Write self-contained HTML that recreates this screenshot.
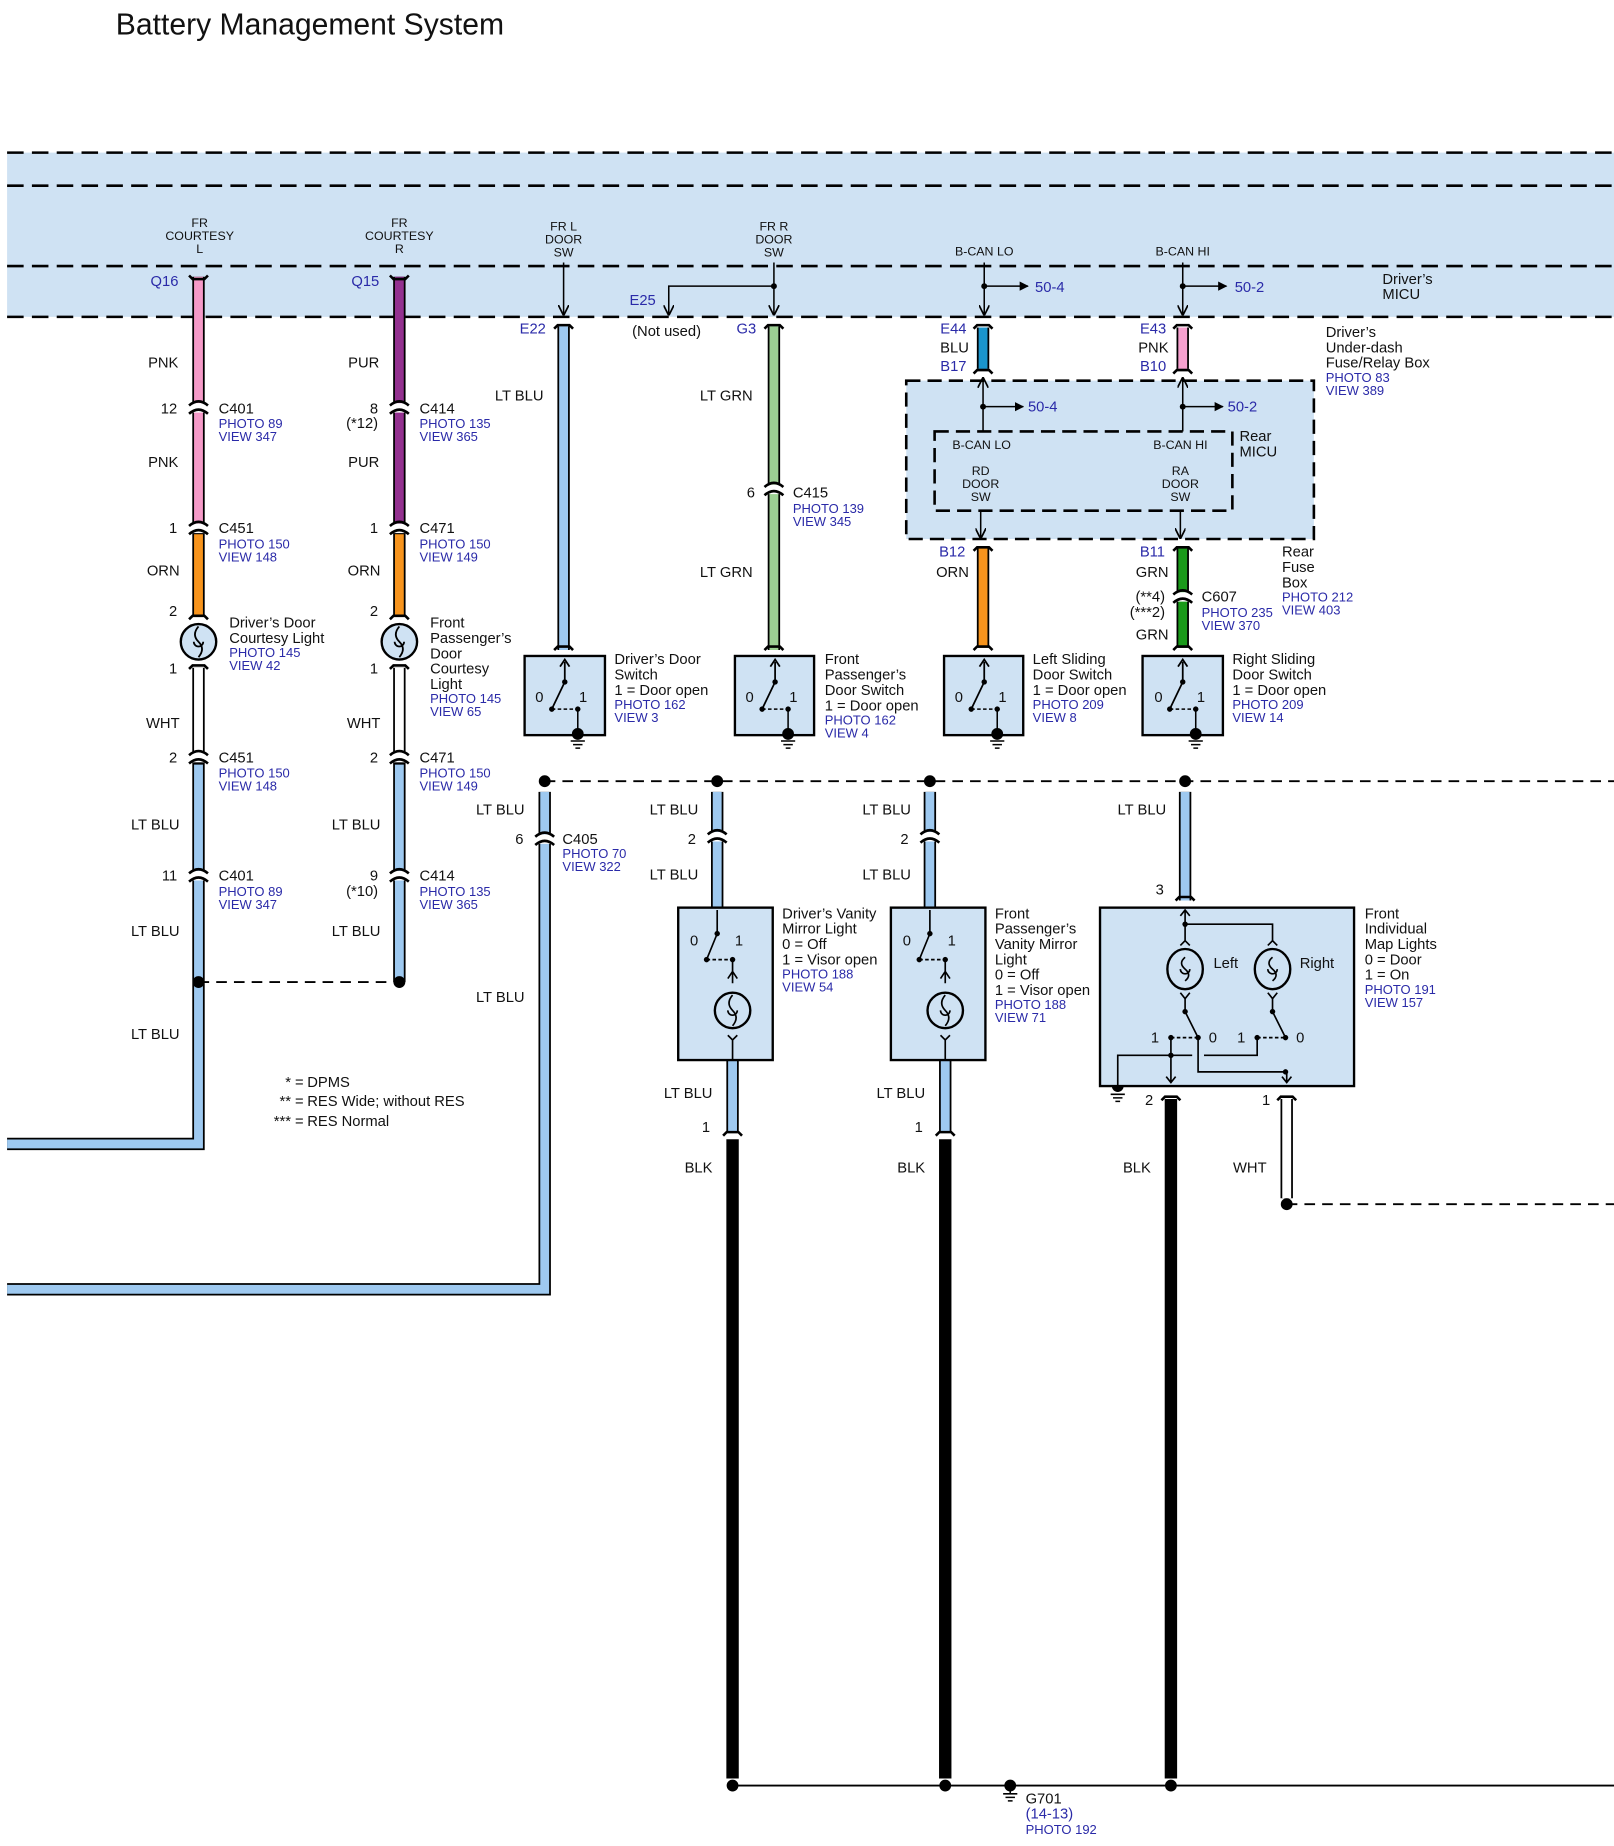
<!DOCTYPE html>
<html><head><meta charset="utf-8"><style>
html,body{margin:0;padding:0;background:#fff;}
svg{display:block;}
text{font-family:"Liberation Sans",sans-serif;font-size:12.5px;fill:#111;}
.b{fill:#2a2aa8;font-size:11px;}
.bp{fill:#2a2aa8;font-size:12.5px;}
.s{font-size:10.5px;}
.m{text-anchor:middle;}
.e{text-anchor:end;}
</style></head><body>
<svg width="1614" height="1846" viewBox="0 0 1366 1562" xmlns="http://www.w3.org/2000/svg">
<defs>
<marker id="ar" viewBox="0 0 10 10" refX="9" refY="5" markerWidth="7" markerHeight="7" orient="auto"><path d="M0 0 L10 5 L0 10" fill="none" stroke="#000" stroke-width="1.6"/></marker>
<marker id="at" viewBox="0 0 10 10" refX="9" refY="5" markerWidth="6" markerHeight="6" orient="auto"><path d="M0 0 L10 5 L0 10 z" fill="#000"/></marker>
</defs>
<text x="98" y="29" style="font-size:25.5px">Battery Management System</text>

<!-- band -->
<rect x="6" y="129" width="1360" height="139" fill="#cfe2f3"/>
<g stroke="#000" stroke-width="2.2" stroke-dasharray="14,7" fill="none">
<line x1="6" y1="129" x2="1366" y2="129"/><line x1="6" y1="157" x2="1366" y2="157"/>
<line x1="6" y1="225" x2="1366" y2="225"/><line x1="6" y1="268" x2="1366" y2="268"/>
</g>
<g class="s">
<text class="m s" x="169" y="192">FR</text><text class="m s" x="169" y="203">COURTESY</text><text class="m s" x="169" y="214">L</text>
<text class="m s" x="338" y="192">FR</text><text class="m s" x="338" y="203">COURTESY</text><text class="m s" x="338" y="214">R</text>
<text class="m s" x="477" y="195">FR L</text><text class="m s" x="477" y="206">DOOR</text><text class="m s" x="477" y="217">SW</text>
<text class="m s" x="655" y="195">FR R</text><text class="m s" x="655" y="206">DOOR</text><text class="m s" x="655" y="217">SW</text>
<text class="m s" x="833" y="216">B-CAN LO</text><text class="m s" x="1001" y="216">B-CAN HI</text>
</g>
<text x="1170" y="240">Driver’s</text><text x="1170" y="253">MICU</text>

<!-- rear MICU box -->
<rect x="767" y="322" width="345" height="134" fill="#cfe2f3" stroke="#000" stroke-width="2.2" stroke-dasharray="12,6"/>
<rect x="791" y="365" width="252" height="67" fill="none" stroke="#000" stroke-width="2.2" stroke-dasharray="12,6"/>
<text class="s" x="806" y="380">B-CAN LO</text><text class="s" x="976" y="380">B-CAN HI</text>
<text class="m s" x="830" y="402">RD</text><text class="m s" x="830" y="413">DOOR</text><text class="m s" x="830" y="424">SW</text>
<text class="m s" x="999" y="402">RA</text><text class="m s" x="999" y="413">DOOR</text><text class="m s" x="999" y="424">SW</text>
<text x="1049" y="373">Rear</text><text x="1049" y="386">MICU</text>

<!-- signal lines in band -->
<g stroke="#000" stroke-width="1.3" fill="none">
<line x1="477" y1="222" x2="477" y2="266" marker-end="url(#ar)"/>
<line x1="655" y1="222" x2="655" y2="266" marker-end="url(#ar)"/>
<polyline points="655,242 566,242 566,266" marker-end="url(#ar)"/>
<line x1="833" y1="222" x2="833" y2="266" marker-end="url(#ar)"/>
<line x1="833" y1="242" x2="870" y2="242" marker-end="url(#at)"/>
<line x1="1001" y1="222" x2="1001" y2="266" marker-end="url(#ar)"/>
<line x1="1001" y1="242" x2="1038" y2="242" marker-end="url(#at)"/>
<line x1="832" y1="365" x2="832" y2="320" marker-end="url(#ar)"/>
<line x1="832" y1="344" x2="866" y2="344" marker-end="url(#at)"/>
<line x1="1001" y1="365" x2="1001" y2="320" marker-end="url(#ar)"/>
<line x1="1001" y1="344" x2="1035" y2="344" marker-end="url(#at)"/>
<line x1="830" y1="432" x2="830" y2="455" marker-end="url(#ar)"/>
<line x1="999" y1="432" x2="999" y2="455" marker-end="url(#ar)"/>
</g>
<g fill="#000"><circle cx="655" cy="242" r="2.5"/><circle cx="833" cy="242" r="2.5"/><circle cx="1001" cy="242" r="2.5"/><circle cx="832" cy="344" r="2.5"/><circle cx="1001" cy="344" r="2.5"/></g>
<text class="bp" x="876" y="247">50-4</text><text class="bp" x="1045" y="247">50-2</text>
<text class="bp" x="870" y="348">50-4</text><text class="bp" x="1039" y="348">50-2</text>

<!-- wires: outlines then colors -->
<g stroke-linecap="butt" fill="none">
<g stroke="#000" stroke-width="10.5">
<line x1="168" y1="234" x2="168" y2="520"/>
<line x1="338" y1="234" x2="338" y2="520"/>
<line x1="477" y1="276" x2="477" y2="550"/>
<line x1="655" y1="276" x2="655" y2="550"/>
<line x1="832" y1="277" x2="832" y2="312"/>
<line x1="1001" y1="277" x2="1001" y2="312"/>
<line x1="832" y1="464" x2="832" y2="548"/>
<line x1="1001" y1="464" x2="1001" y2="548"/>
<polyline points="168,565 168,968 6,968"/>
<polyline points="338,565 338,831"/>
<polyline points="461,670 461,1091 6,1091"/>
<line x1="607" y1="670" x2="607" y2="768"/>
<line x1="787" y1="670" x2="787" y2="768"/>
<line x1="1003" y1="670" x2="1003" y2="762"/>
<line x1="620" y1="897" x2="620" y2="958"/>
<line x1="800" y1="897" x2="800" y2="958"/>
<line x1="1089" y1="930" x2="1089" y2="1014"/>
</g>
<g stroke-width="7.5">
<line stroke="#f59ac8" x1="168" y1="234" x2="168" y2="447"/>
<line stroke="#f7941d" x1="168" y1="452" x2="168" y2="522"/>
<line stroke="#93318f" x1="338" y1="234" x2="338" y2="447"/>
<line stroke="#f7941d" x1="338" y1="452" x2="338" y2="522"/>
<line stroke="#fff" x1="168" y1="565" x2="168" y2="642"/>
<line stroke="#fff" x1="338" y1="565" x2="338" y2="642"/>
<polyline stroke="#9ec9f0" points="168,647 168,968 6,968"/>
<polyline stroke="#9ec9f0" points="338,647 338,831"/>
<line stroke="#9ec9f0" x1="477" y1="276" x2="477" y2="550"/>
<line stroke="#9ccf93" x1="655" y1="276" x2="655" y2="550"/>
<line stroke="#1a95cc" x1="832" y1="277" x2="832" y2="312"/>
<line stroke="#f7a1cf" x1="1001" y1="277" x2="1001" y2="312"/>
<line stroke="#f7941d" x1="832" y1="464" x2="832" y2="548"/>
<line stroke="#1a9a1a" x1="1001" y1="464" x2="1001" y2="548"/>
<polyline stroke="#9ec9f0" points="461,670 461,1091 6,1091"/>
<line stroke="#9ec9f0" x1="607" y1="670" x2="607" y2="768"/>
<line stroke="#9ec9f0" x1="787" y1="670" x2="787" y2="768"/>
<line stroke="#9ec9f0" x1="1003" y1="670" x2="1003" y2="762"/>
<line stroke="#9ec9f0" x1="620" y1="897" x2="620" y2="958"/>
<line stroke="#9ec9f0" x1="800" y1="897" x2="800" y2="958"/>
<line stroke="#fff" x1="1089" y1="930" x2="1089" y2="1014"/>
</g>
<g stroke="#000" stroke-width="10.5">
<line x1="620" y1="964" x2="620" y2="1505"/>
<line x1="800" y1="964" x2="800" y2="1505"/>
<line x1="991" y1="930" x2="991" y2="1505"/>
</g>
</g>

<!-- connector gaps (white cuts) and caps -->
<g fill="#fff">
<rect x="158" y="341" width="20" height="8"/><rect x="328" y="341" width="20" height="8"/>
<rect x="158" y="443" width="20" height="8"/><rect x="328" y="443" width="20" height="8"/>
<rect x="158" y="637" width="20" height="8"/><rect x="328" y="637" width="20" height="8"/>
<rect x="158" y="737" width="20" height="8"/><rect x="328" y="737" width="20" height="8"/>
<rect x="645" y="410" width="20" height="8"/><rect x="991" y="501" width="20" height="8"/>
<rect x="451" y="706" width="20" height="8"/>
<rect x="597" y="704" width="20" height="8"/><rect x="777" y="704" width="20" height="8"/>
</g>
<g stroke="#000" stroke-width="2.2" fill="none">
<path d="M160 343 Q168 336 176 343 M160 350 Q168 343 176 350"/>
<path d="M330 343 Q338 336 346 343 M330 350 Q338 343 346 350"/>
<path d="M160 445 Q168 438 176 445 M160 452 Q168 445 176 452"/>
<path d="M330 445 Q338 438 346 445 M330 452 Q338 445 346 452"/>
<path d="M160 639 Q168 632 176 639 M160 646 Q168 639 176 646"/>
<path d="M330 639 Q338 632 346 639 M330 646 Q338 639 346 646"/>
<path d="M160 739 Q168 732 176 739 M160 746 Q168 739 176 746"/>
<path d="M330 739 Q338 732 346 739 M330 746 Q338 739 346 746"/>
<path d="M647 412 Q655 405 663 412 M647 419 Q655 412 663 419"/>
<path d="M993 503 Q1001 496 1009 503 M993 510 Q1001 503 1009 510"/>
<path d="M453 708 Q461 701 469 708 M453 715 Q461 708 469 715"/>
<path d="M599 706 Q607 699 615 706 M599 713 Q607 706 615 713"/>
<path d="M779 706 Q787 699 795 706 M779 713 Q787 706 795 713"/>
<path d="M160 233 L163 236 L173 236 L176 233"/><path d="M330 233 L333 236 L343 236 L346 233"/>
<path d="M469 278 L472 275 L482 275 L485 278"/><path d="M647 278 L650 275 L660 275 L663 278"/>
<path d="M824 278 L827 275 L837 275 L840 278"/><path d="M993 278 L996 275 L1006 275 L1009 278"/>
<path d="M824 316 L827 313 L837 313 L840 316"/><path d="M993 316 L996 313 L1006 313 L1009 316"/>
<path d="M824 466 L827 463 L837 463 L840 466"/><path d="M993 466 L996 463 L1006 463 L1009 466"/>
<path d="M824 550 L827 547 L837 547 L840 550"/><path d="M993 550 L996 547 L1006 547 L1009 550"/>
<path d="M469 550 L472 547 L482 547 L485 550"/><path d="M647 550 L650 547 L660 547 L663 550"/>
<path d="M160 524 L163 521 L173 521 L176 524"/><path d="M330 524 L333 521 L343 521 L346 524"/>
<path d="M160 566 L163 563 L173 563 L176 566"/><path d="M330 566 L333 563 L343 563 L346 566"/>
<path d="M995 762 L998 759 L1008 759 L1011 762"/>
<path d="M983 931 L986 928 L996 928 L999 931"/><path d="M1081 931 L1084 928 L1094 928 L1097 931"/>
<path d="M612 961 L615 958 L625 958 L628 961"/><path d="M792 961 L795 958 L805 958 L808 961"/>
</g>

<!-- bulbs (courtesy) -->
<g stroke="#000" stroke-width="2" fill="#cfe2f3">
<circle cx="168" cy="543" r="15"/><circle cx="338" cy="543" r="15"/>
</g>
<g stroke="#000" stroke-width="1.5" fill="none">
<path d="M168 530 Q162 537 168 543 Q174 549 168 556 M164 543 a4 4 0 1 0 8 0"/>
<path d="M338 530 Q332 537 338 543 Q344 549 338 556 M334 543 a4 4 0 1 0 8 0"/>
</g>

<!-- door switches -->
<g stroke="#000" stroke-width="2" fill="#cfe2f3">
<rect x="444" y="555" width="68" height="67"/><rect x="622" y="555" width="67" height="67"/>
<rect x="799" y="555" width="67" height="67"/><rect x="967" y="555" width="68" height="67"/>
</g>
<g stroke="#000" stroke-width="1.5" fill="none">
<path d="M478 560 L478 577 L467 600"/><path d="M656 560 L656 577 L645 600"/>
<path d="M833 560 L833 577 L822 600"/><path d="M1001 560 L1001 577 L990 600"/>
<path d="M474 564 L478 558 L482 564 M652 564 L656 558 L660 564 M829 564 L833 558 L837 564 M997 564 L1001 558 L1005 564"/>
</g>
<g fill="#000">
<circle cx="478" cy="577" r="2.3"/><circle cx="467" cy="600" r="2.3"/><circle cx="489" cy="600" r="2.3"/><circle cx="489" cy="621" r="5"/>
<circle cx="656" cy="577" r="2.3"/><circle cx="645" cy="600" r="2.3"/><circle cx="667" cy="600" r="2.3"/><circle cx="667" cy="621" r="5"/>
<circle cx="833" cy="577" r="2.3"/><circle cx="822" cy="600" r="2.3"/><circle cx="844" cy="600" r="2.3"/><circle cx="844" cy="621" r="5"/>
<circle cx="1001" cy="577" r="2.3"/><circle cx="990" cy="600" r="2.3"/><circle cx="1012" cy="600" r="2.3"/><circle cx="1012" cy="621" r="5"/>
</g>
<g stroke="#000" stroke-width="1.3" fill="none">
<path d="M467 600 L489 600" stroke-dasharray="3,2"/>
<path d="M645 600 L667 600" stroke-dasharray="3,2"/><path d="M822 600 L844 600" stroke-dasharray="3,2"/><path d="M990 600 L1012 600" stroke-dasharray="3,2"/>
<path d="M489 600 L489 621 M667 600 L667 621 M844 600 L844 621 M1012 600 L1012 621"/>
<path d="M483 627 h12 M485 630 h8 M487 633 h4 M661 627 h12 M663 630 h8 M665 633 h4 M838 627 h12 M840 630 h8 M842 633 h4 M1006 627 h12 M1008 630 h8 M1010 633 h4"/>
</g>
<g>
<text x="453" y="594">0</text><text x="490" y="594">1</text><text x="631" y="594">0</text><text x="668" y="594">1</text>
<text x="808" y="594">0</text><text x="845" y="594">1</text><text x="977" y="594">0</text><text x="1013" y="594">1</text>
</g>

<!-- dashed horizontals -->
<g stroke="#000" stroke-width="1.6" stroke-dasharray="9,6" fill="none">
<line x1="461" y1="661" x2="1366" y2="661"/><line x1="168" y1="831" x2="338" y2="831"/>
<line x1="1089" y1="1019" x2="1366" y2="1019"/>
</g>
<line x1="620" y1="1511" x2="1366" y2="1511" stroke="#000" stroke-width="1.6"/>
<g fill="#000">
<circle cx="461" cy="661" r="5"/><circle cx="607" cy="661" r="5"/><circle cx="787" cy="661" r="5"/><circle cx="1003" cy="661" r="5"/>
<circle cx="168" cy="831" r="5"/><circle cx="338" cy="831" r="5"/><circle cx="1089" cy="1019" r="5"/>
<circle cx="620" cy="1511" r="5"/><circle cx="800" cy="1511" r="5"/><circle cx="991" cy="1511" r="5"/><circle cx="855" cy="1511" r="5"/>
<circle cx="946" cy="919" r="5"/>
</g>
<path d="M849 1518 h12 M851 1521 h8 M853 1524 h4 M940 926 h12 M942 929 h8 M944 932 h4" stroke="#000" stroke-width="1.3"/>
<path d="M855 1511 v7" stroke="#000" stroke-width="1.3"/>

<!-- vanity mirror boxes -->
<g stroke="#000" stroke-width="2" fill="#cfe2f3">
<rect x="574" y="768" width="80" height="129"/><rect x="754" y="768" width="80" height="129"/>
<rect x="931" y="768" width="215" height="151"/>
<circle cx="620" cy="855" r="15"/><circle cx="800" cy="855" r="15"/>
<ellipse cx="1003" cy="820" rx="15" ry="17"/><ellipse cx="1077" cy="820" rx="15" ry="17"/>
</g>
<g stroke="#000" stroke-width="1.4" fill="none">
<path d="M607 770 L607 790 L598 812 M620 812 L620 832 M616 828 L620 822 L624 828 M616 876 L620 880 L624 876 M620 880 L620 897"/>
<path d="M787 770 L787 790 L778 812 M800 812 L800 832 M796 828 L800 822 L804 828 M796 876 L800 880 L804 876 M800 880 L800 897"/>
<path d="M598 812 L620 812 M778 812 L800 812" stroke-dasharray="3,2"/>
<path d="M620 842 Q614 849 620 855 Q626 861 620 868 M616 855 a4 4 0 1 0 8 0"/>
<path d="M800 842 Q794 849 800 855 Q806 861 800 868 M796 855 a4 4 0 1 0 8 0"/>
<path d="M1003 810 Q997 815 1003 820 Q1009 825 1003 830 M999 820 a4 4 0 1 0 8 0"/>
<path d="M1077 810 Q1071 815 1077 820 Q1083 825 1077 830 M1073 820 a4 4 0 1 0 8 0"/>
<path d="M1003 770 L1003 796 M999 775 L1003 770 L1007 775 M1003 782 L1077 782 L1077 796 M999 800 L1003 796 L1007 800 M1073 800 L1077 796 L1081 800"/>
<path d="M999 840 L1003 845 L1007 840 M1073 840 L1077 845 L1081 840 M1003 845 L1003 856 L1014 878 M1077 845 L1077 856 L1088 878"/>
<path d="M991 878 L1014 878 M1064 878 L1088 878" stroke-dasharray="3,2"/>
<path d="M991 878 L991 916 M987 911 L991 916 L995 911 M1014 878 L1014 907 L1089 907 L1089 916 M1085 911 L1089 916 L1093 911"/>
<path d="M946 919 L946 893 L1009 893 M1019 893 L1064 893 L1064 878"/>
</g>
<g fill="#000">
<circle cx="607" cy="790" r="2.3"/><circle cx="598" cy="812" r="2.3"/><circle cx="620" cy="812" r="2.3"/>
<circle cx="787" cy="790" r="2.3"/><circle cx="778" cy="812" r="2.3"/><circle cx="800" cy="812" r="2.3"/>
<circle cx="1003" cy="782" r="2.3"/><circle cx="1003" cy="856" r="2.3"/><circle cx="1077" cy="856" r="2.3"/>
<circle cx="991" cy="878" r="2.3"/><circle cx="1014" cy="878" r="2.3"/><circle cx="1064" cy="878" r="2.3"/><circle cx="1088" cy="878" r="2.3"/>
<circle cx="991" cy="893" r="2.3"/><circle cx="1088" cy="907" r="2.3"/>
</g>
<text x="584" y="800">0</text><text x="622" y="800">1</text><text x="764" y="800">0</text><text x="802" y="800">1</text>
<text x="1027" y="819">Left</text><text x="1100" y="819">Right</text>
<text x="974" y="882">1</text><text x="1023" y="882">0</text><text x="1047" y="882">1</text><text x="1097" y="882">0</text>

<!-- wire labels -->
<g>
<text class="bp e" x="151" y="242">Q16</text><text class="bp e" x="321" y="242">Q15</text>
<text class="bp e" x="462" y="282">E22</text><text class="bp e" x="555" y="258">E25</text>
<text x="535" y="284">(Not used)</text><text class="bp e" x="640" y="282">G3</text>
<text class="e" x="151" y="311">PNK</text><text class="e" x="321" y="311">PUR</text>
<text class="e" x="460" y="339">LT BLU</text><text class="e" x="637" y="339">LT GRN</text>
<text class="e" x="150" y="350">12</text><text x="185" y="350">C401</text><text class="b" x="185" y="362">PHOTO 89</text><text class="b" x="185" y="373">VIEW 347</text>
<text class="e" x="320" y="350">8</text><text class="e" x="320" y="362">(*12)</text><text x="355" y="350">C414</text><text class="b" x="355" y="362">PHOTO 135</text><text class="b" x="355" y="373">VIEW 365</text>
<text class="e" x="151" y="395">PNK</text><text class="e" x="321" y="395">PUR</text>
<text class="e" x="639" y="421">6</text><text x="671" y="421">C415</text><text class="b" x="671" y="434">PHOTO 139</text><text class="b" x="671" y="445">VIEW 345</text>
<text class="e" x="150" y="451">1</text><text x="185" y="451">C451</text><text class="b" x="185" y="464">PHOTO 150</text><text class="b" x="185" y="475">VIEW 148</text>
<text class="e" x="320" y="451">1</text><text x="355" y="451">C471</text><text class="b" x="355" y="464">PHOTO 150</text><text class="b" x="355" y="475">VIEW 149</text>
<text class="e" x="152" y="487">ORN</text><text class="e" x="322" y="487">ORN</text><text class="e" x="637" y="488">LT GRN</text>
<text class="e" x="150" y="521">2</text><text class="e" x="320" y="521">2</text><text class="e" x="150" y="570">1</text><text class="e" x="320" y="570">1</text>
<text x="194" y="531">Driver’s Door</text><text x="194" y="544">Courtesy Light</text><text class="b" x="194" y="556">PHOTO 145</text><text class="b" x="194" y="567">VIEW 42</text>
<text x="364" y="531">Front</text><text x="364" y="544">Passenger’s</text><text x="364" y="557">Door</text><text x="364" y="570">Courtesy</text><text x="364" y="583">Light</text><text class="b" x="364" y="595">PHOTO 145</text><text class="b" x="364" y="606">VIEW 65</text>
<text class="e" x="152" y="616">WHT</text><text class="e" x="322" y="616">WHT</text>
<text class="e" x="150" y="645">2</text><text x="185" y="645">C451</text><text class="b" x="185" y="658">PHOTO 150</text><text class="b" x="185" y="669">VIEW 148</text>
<text class="e" x="320" y="645">2</text><text x="355" y="645">C471</text><text class="b" x="355" y="658">PHOTO 150</text><text class="b" x="355" y="669">VIEW 149</text>
<text class="e" x="152" y="702">LT BLU</text><text class="e" x="322" y="702">LT BLU</text>
<text class="e" x="150" y="745">11</text><text x="185" y="745">C401</text><text class="b" x="185" y="758">PHOTO 89</text><text class="b" x="185" y="769">VIEW 347</text>
<text class="e" x="320" y="745">9</text><text class="e" x="320" y="758">(*10)</text><text x="355" y="745">C414</text><text class="b" x="355" y="758">PHOTO 135</text><text class="b" x="355" y="769">VIEW 365</text>
<text class="e" x="152" y="792">LT BLU</text><text class="e" x="322" y="792">LT BLU</text><text class="e" x="152" y="879">LT BLU</text>
<text class="e" x="257" y="920">* =</text><text x="260" y="920">DPMS</text>
<text class="e" x="257" y="936">** =</text><text x="260" y="936">RES Wide; without RES</text>
<text class="e" x="257" y="953">*** =</text><text x="260" y="953">RES Normal</text>
<text x="520" y="562">Driver’s Door</text><text x="520" y="575">Switch</text><text x="520" y="588">1 = Door open</text><text class="b" x="520" y="600">PHOTO 162</text><text class="b" x="520" y="611">VIEW 3</text>
<text x="698" y="562">Front</text><text x="698" y="575">Passenger’s</text><text x="698" y="588">Door Switch</text><text x="698" y="601">1 = Door open</text><text class="b" x="698" y="613">PHOTO 162</text><text class="b" x="698" y="624">VIEW 4</text>
<text x="874" y="562">Left Sliding</text><text x="874" y="575">Door Switch</text><text x="874" y="588">1 = Door open</text><text class="b" x="874" y="600">PHOTO 209</text><text class="b" x="874" y="611">VIEW 8</text>
<text x="1043" y="562">Right Sliding</text><text x="1043" y="575">Door Switch</text><text x="1043" y="588">1 = Door open</text><text class="b" x="1043" y="600">PHOTO 209</text><text class="b" x="1043" y="611">VIEW 14</text>
<text class="bp e" x="818" y="282">E44</text><text class="e" x="820" y="298">BLU</text><text class="bp e" x="818" y="314">B17</text>
<text class="bp e" x="987" y="282">E43</text><text class="e" x="989" y="298">PNK</text><text class="bp e" x="987" y="314">B10</text>
<text x="1122" y="285">Driver’s</text><text x="1122" y="298">Under-dash</text><text x="1122" y="311">Fuse/Relay Box</text><text class="b" x="1122" y="323">PHOTO 83</text><text class="b" x="1122" y="334">VIEW 389</text>
<text class="bp e" x="817" y="471">B12</text><text class="e" x="820" y="488">ORN</text>
<text class="bp e" x="986" y="471">B11</text><text class="e" x="989" y="488">GRN</text>
<text class="e" x="986" y="509">(**4)</text><text class="e" x="986" y="522">(***2)</text><text x="1017" y="509">C607</text><text class="b" x="1017" y="522">PHOTO 235</text><text class="b" x="1017" y="533">VIEW 370</text>
<text class="e" x="989" y="541">GRN</text>
<text x="1085" y="471">Rear</text><text x="1085" y="484">Fuse</text><text x="1085" y="497">Box</text><text class="b" x="1085" y="509">PHOTO 212</text><text class="b" x="1085" y="520">VIEW 403</text>
<text class="e" x="444" y="689">LT BLU</text><text class="e" x="591" y="689">LT BLU</text><text class="e" x="771" y="689">LT BLU</text><text class="e" x="987" y="689">LT BLU</text>
<text class="e" x="443" y="714">6</text><text x="476" y="714">C405</text><text class="b" x="476" y="726">PHOTO 70</text><text class="b" x="476" y="737">VIEW 322</text>
<text class="e" x="589" y="714">2</text><text class="e" x="769" y="714">2</text>
<text class="e" x="591" y="744">LT BLU</text><text class="e" x="771" y="744">LT BLU</text>
<text class="e" x="985" y="757">3</text><text class="e" x="444" y="848">LT BLU</text>
<text x="662" y="777">Driver’s Vanity</text><text x="662" y="790">Mirror Light</text><text x="662" y="803">0 = Off</text><text x="662" y="816">1 = Visor open</text><text class="b" x="662" y="828">PHOTO 188</text><text class="b" x="662" y="839">VIEW 54</text>
<text x="842" y="777">Front</text><text x="842" y="790">Passenger’s</text><text x="842" y="803">Vanity Mirror</text><text x="842" y="816">Light</text><text x="842" y="829">0 = Off</text><text x="842" y="842">1 = Visor open</text><text class="b" x="842" y="854">PHOTO 188</text><text class="b" x="842" y="865">VIEW 71</text>
<text x="1155" y="777">Front</text><text x="1155" y="790">Individual</text><text x="1155" y="803">Map Lights</text><text x="1155" y="816">0 = Door</text><text x="1155" y="829">1 = On</text><text class="b" x="1155" y="841">PHOTO 191</text><text class="b" x="1155" y="852">VIEW 157</text>
<text class="e" x="603" y="929">LT BLU</text><text class="e" x="783" y="929">LT BLU</text>
<text class="e" x="601" y="958">1</text><text class="e" x="781" y="958">1</text><text class="e" x="976" y="935">2</text><text class="e" x="1075" y="935">1</text>
<text class="e" x="603" y="992">BLK</text><text class="e" x="783" y="992">BLK</text><text class="e" x="974" y="992">BLK</text><text class="e" x="1072" y="992">WHT</text>
<text x="868" y="1526">G701</text><text class="bp" x="868" y="1539">(14-13)</text><text class="b" x="868" y="1552">PHOTO 192</text>
</g>
</svg>
</body></html>
